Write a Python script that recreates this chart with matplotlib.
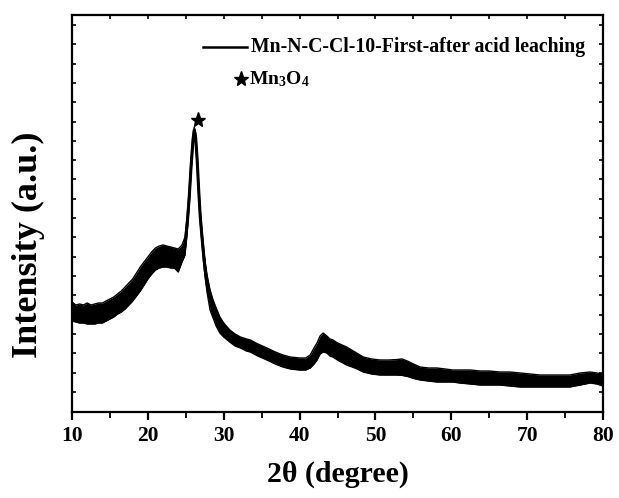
import matplotlib
matplotlib.use("Agg")
import matplotlib.pyplot as plt
import numpy as np

plt.rcParams['font.family'] = ['Liberation Serif', 'DejaVu Serif']
plt.rcParams['font.weight'] = 'bold'
plt.rcParams['mathtext.fontset'] = 'custom'
plt.rcParams['mathtext.rm'] = 'Liberation Serif:bold'
plt.rcParams['mathtext.bf'] = 'Liberation Serif:bold'
plt.rcParams['mathtext.it'] = 'Liberation Serif:bold'

# 2theta (degree) sample positions and read upper / lower edges of the noisy trace (a.u.)
two_theta = [10.0, 10.5, 11.0, 11.5, 12.0, 12.5, 13.0, 13.5, 14.0, 14.5, 15.0, 15.5, 16.0, 16.5,
             17.0, 17.5, 18.0, 18.5, 19.0, 19.5, 20.0, 20.5, 21.0, 21.5, 22.0, 22.5, 23.0, 23.5,
             24.0, 24.5, 24.9, 25.2, 25.45, 25.7, 25.95, 26.12, 26.3, 26.5, 26.7, 26.9, 27.1,
             27.35, 27.55, 27.8, 28.2, 28.6, 29.0, 29.5, 30.0, 30.8, 31.5, 32.2, 33.0, 33.5,
             34.5, 35.7, 36.8, 37.8, 38.8, 40.0, 40.8, 41.4, 41.9, 42.3, 42.7, 43.1, 43.6,
             44.0, 44.4, 45.0, 46.2, 47.3, 48.4, 49.5, 50.6, 51.7, 52.8, 53.5, 54.2, 55.0,
             55.9, 57.0, 58.1, 59.2, 60.2, 61.1, 62.5, 63.8, 65.0, 66.4, 67.7, 69.1, 70.4,
             71.7, 73.0, 74.3, 75.6, 77.0, 78.3, 79.2, 80.0]
intensity_upper = [550, 535, 540, 535, 545, 535, 540, 545, 545, 555, 565, 575, 590, 605,
                   625, 645, 665, 695, 725, 750, 775, 800, 820, 830, 835, 830, 825, 820,
                   815, 835, 875, 985, 1110, 1260, 1385, 1425, 1395, 1285, 1135, 1010, 920,
                   820, 750, 685, 610, 560, 520, 475, 445, 410, 390, 375, 365, 360,
                   340, 320, 300, 285, 275, 270, 270, 285, 320, 345, 380, 395, 380,
                   365, 360, 345, 325, 300, 275, 265, 260, 260, 262, 265, 255, 240,
                   225, 220, 220, 215, 210, 210, 210, 205, 205, 200, 200, 195, 190,
                   185, 185, 185, 185, 195, 200, 195, 190]
intensity_lower = [455, 450, 445, 445, 440, 440, 440, 445, 445, 455, 465, 475, 490, 500,
                   515, 535, 555, 580, 605, 635, 665, 690, 710, 720, 725, 725, 720, 720,
                   700, 750, 785, 910, 1035, 1200, 1335, 1395, 1350, 1235, 1085, 950, 860,
                   750, 675, 600, 510, 470, 430, 395, 375, 350, 330, 320, 305, 300,
                   280, 260, 240, 225, 215, 210, 210, 220, 240, 260, 290, 300, 295,
                   280, 275, 260, 235, 220, 200, 190, 185, 185, 185, 183, 178, 168,
                   160, 155, 150, 150, 150, 145, 140, 135, 135, 135, 130, 125, 125,
                   125, 125, 125, 125, 135, 145, 140, 130]

peak_label_x = [26.6]
peak_label_y = [1460]

series_name = "Mn-N-C-Cl-10-First-after acid leaching"
phase_name = "Mn$_3$O$_4$"
x_ticks = [10, 20, 30, 40, 50, 60, 70, 80]

fig = plt.figure(figsize=(6.19, 4.98), dpi=100)
ax = fig.add_axes([72/619, 86/498, 531/619, 397/498])

x = np.array(two_theta)
up = np.array(intensity_upper)
lo = np.array(intensity_lower)
ax.fill_between(x, lo, up, color='black', lw=0)
ax.plot(x, (up + lo) / 2, color='black', lw=2.2)
ax.plot(x, up, color='black', lw=1.0)
ax.plot(x, lo, color='black', lw=1.0)

ax.plot(peak_label_x, peak_label_y, marker='*', color='black', ms=11, ls='none')

ax.set_xlim(10, 80)
ax.set_ylim(0, 1985)
ax.set_xticks(x_ticks)
ax.set_xticks(np.arange(15, 80, 10), minor=True)
ax.set_yticks(np.arange(100, 1985, 96.6))
ax.set_yticklabels([])

for s in ax.spines.values():
    s.set_linewidth(1.6)

ax.tick_params(axis='x', which='major', direction='out', length=6, width=1.6,
               labelsize=15.5, pad=4, top=False)
ax.tick_params(axis='x', which='minor', direction='out', length=4, width=1.3, top=False)
ax.tick_params(axis='y', which='major', direction='in', length=3, width=1.2,
               left=True, right=True)
for lbl in ax.get_xticklabels():
    lbl.set_fontweight('bold')

# top ticks inward
sec = ax.secondary_xaxis('top')
sec.set_xticks(x_ticks)
sec.set_xticks(np.arange(15, 80, 10), minor=True)
sec.tick_params(which='both', direction='in', length=3, width=1.2, labeltop=False)
sec.spines['top'].set_visible(False)

fig.text(338/619, 1 - 474/498, "2θ (degree)", fontsize=21.5, fontweight='bold',
         ha='center', va='center')
fig.text(28/619, 1 - 245/498, "Intensity (a.u.)", fontsize=26, fontweight='bold',
         ha='center', va='center', rotation=90)

# legend
ax.plot([0.247, 0.330], [0.919, 0.919], transform=ax.transAxes, color='black', lw=1.8)
ax.text(0.337, 0.919, series_name, transform=ax.transAxes, fontsize=14.2,
        fontweight='bold', va='center', ha='left')
ax.plot([0.318], [0.839], transform=ax.transAxes, marker='*', color='black', ms=11, ls='none')
ax.text(0.333, 0.839, phase_name, transform=ax.transAxes, fontsize=14,
        fontweight='bold', va='center', ha='left')

fig.savefig("out.png", dpi=100)
